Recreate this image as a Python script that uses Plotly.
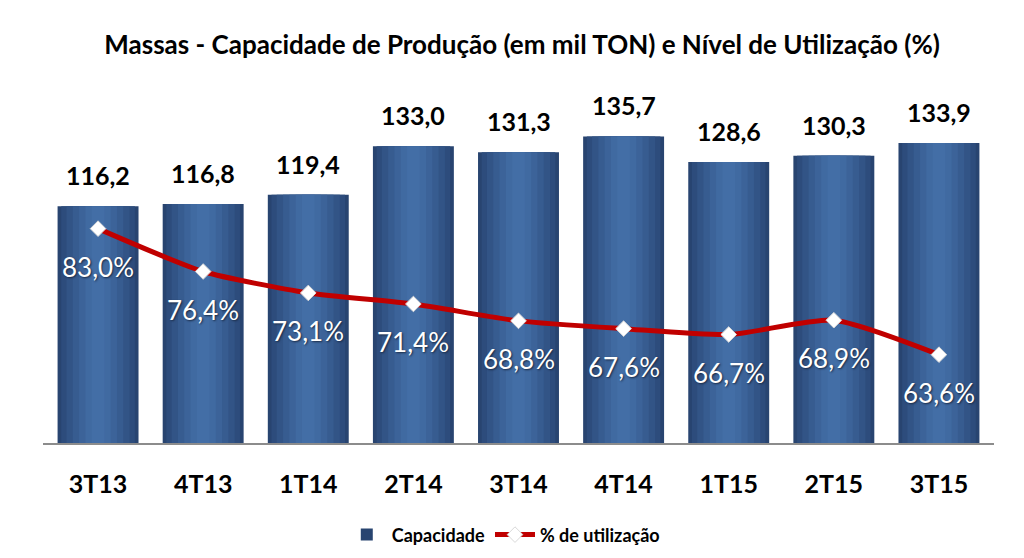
import plotly.graph_objects as go

categories = ["3T13", "4T13", "1T14", "2T14", "3T14", "4T14", "1T15", "2T15", "3T15"]
capacidade = [116.2, 116.8, 119.4, 133.0, 131.3, 135.7, 128.6, 130.3, 133.9]
utilizacao = [83.0, 76.4, 73.1, 71.4, 68.8, 67.6, 66.7, 68.9, 63.6]

def br(v, pct=False):
    s = f"{v:.1f}".replace(".", ",")
    return s + ("%" if pct else "")

FONT = "Lato"
fig = go.Figure()

# horizontal gradient for bars via overlaid bars of decreasing width
layers = [
    (0.77, "#284470"),
    (0.70, "#2d4c7c"),
    (0.60, "#325486"),
    (0.48, "#375c90"),
    (0.36, "#3c6399"),
    (0.24, "#406aa1"),
    (0.12, "#436ea6"),
]
for i, (w, c) in enumerate(layers):
    fig.add_trace(go.Bar(
        x=categories, y=capacidade, width=w,
        marker=dict(color=c, line=dict(width=0)),
        name="Capacidade", showlegend=(i == 0),
        hoverinfo="skip" if i else None,
        legendrank=1,
    ))

fig.add_trace(go.Scatter(
    x=categories, y=utilizacao, yaxis="y2", mode="lines+markers",
    name="% de utilização",
    line=dict(color="#c00000", width=5, shape="spline", smoothing=0.6),
    marker=dict(symbol="diamond", size=12, color="white", line=dict(color="#d8d8d8", width=1)),
    legendrank=2,
))

annotations = []
for c, v in zip(categories, capacidade):
    annotations.append(dict(
        x=c, y=v, xref="x", yref="y", text=br(v), showarrow=False,
        yanchor="bottom", yshift=14,
        font=dict(family=FONT, size=25, color="black", weight="bold"),
    ))
for c, v in zip(categories, utilizacao):
    annotations.append(dict(
        x=c, y=v, xref="x", yref="y2", text=br(v, True), showarrow=False,
        yanchor="top", yshift=-20,
        font=dict(family=FONT, size=26, color="white", shadow="1px 1px 2px #1a2a44"),
    ))

fig.update_layout(
    width=1008, height=542,
    margin=dict(l=35, r=22, t=92, b=107, autoexpand=False),
    paper_bgcolor="white", plot_bgcolor="white",
    barmode="overlay",
    title=dict(
        text="Massas - Capacidade de Produção (em mil TON) e Nível de Utilização (%)",
        x=0.51, xanchor="center", y=1 - 37 / 542, yanchor="middle",
        font=dict(family=FONT, size=26, color="black", weight="bold"),
    ),
    xaxis=dict(
        showgrid=False, showline=True, linecolor="#8c8c8c", linewidth=2,
        ticks="", ticklabelstandoff=18, automargin=False,
        tickfont=dict(family=FONT, size=25, color="black", weight="bold"),
    ),
    yaxis=dict(range=[50, 145.9], visible=False, showgrid=False, automargin=False),
    yaxis2=dict(range=[50, 102.8], overlaying="y", visible=False, showgrid=False, automargin=False),
    legend=dict(
        orientation="h", x=0.484, xanchor="center", y=-0.268, yanchor="middle",
        font=dict(family=FONT, size=18, color="black", weight="bold"),
        traceorder="normal", itemwidth=40,
    ),
    annotations=annotations,
    showlegend=True,
)

fig.write_html("out.html")
